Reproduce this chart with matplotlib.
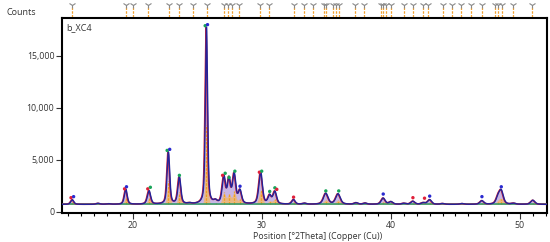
import numpy as np
import matplotlib
matplotlib.use("Agg")
import matplotlib.pyplot as plt

plt.rcParams['font.family'] = ['Open Sans', 'DejaVu Sans']

# ---- data ----
background = 700
peak_pos = [15.30, 17.3, 18.1, 19.45, 21.25, 22.75, 23.60, 24.4, 25.70, 26.40, 27.05, 27.45, 27.85,
            28.30, 29.90, 30.60, 31.00, 32.45, 33.30, 34.95, 35.90, 37.30, 38.00, 39.40,
            40.00, 41.00, 41.70, 42.50, 43.00, 44.00, 45.50, 47.05, 48.30, 48.55, 49.50, 51.00]
peak_cnt = [1150, 800, 760, 2150, 2000, 5700, 3300, 780, 17700, 950, 3300, 3000, 3500,
            1950, 3800, 1500, 1900, 1150, 800, 1750, 1700, 850, 820, 1300,
            950, 800, 1000, 850, 1150, 780, 780, 1050, 1300, 1950, 800, 1100]
peak_fwhm = [0.28, 0.35, 0.35, 0.26, 0.30, 0.24, 0.27, 0.35, 0.20, 0.30, 0.30, 0.27, 0.30,
             0.30, 0.32, 0.30, 0.32, 0.30, 0.35, 0.42, 0.42, 0.35, 0.35, 0.36,
             0.36, 0.36, 0.36, 0.36, 0.36, 0.36, 0.36, 0.36, 0.36, 0.38, 0.36, 0.38]

marker_pos = [15.20, 15.40, 19.35, 19.50, 21.15, 21.35, 22.65, 22.85, 23.60, 25.60, 25.78,
              26.95, 27.15, 27.45, 27.90, 28.30, 29.80, 29.98, 30.60, 31.00, 31.15, 32.45,
              34.95, 35.95, 39.40, 41.70, 42.60, 43.00, 47.05, 48.55]
marker_cnt = [1350, 1450, 2200, 2400, 2200, 2350, 5900, 6000, 3500, 17900, 18000,
              3500, 3700, 3300, 3900, 2450, 3800, 3900, 1950, 2300, 2150, 1400,
              2000, 2000, 1700, 1350, 1300, 1500, 1450, 2400]
marker_col = ['r', 'b', 'r', 'b', 'r', 'g', 'g', 'b', 'g', 'g', 'b',
              'r', 'g', 'g', 'g', 'b', 'r', 'g', 'g', 'g', 'r', 'r',
              'g', 'g', 'b', 'r', 'r', 'b', 'b', 'b']

ref_pos = [15.27, 19.46, 20.0, 21.16, 22.79, 23.57, 24.65, 25.74, 27.05, 27.36, 27.67, 28.22,
           29.84, 30.54, 32.48, 33.26, 33.95, 34.81, 34.96, 35.50, 35.74, 35.97, 37.21, 37.91,
           39.22, 39.38, 39.61, 40.0, 41.0, 41.7, 42.48, 42.87, 44.03, 44.73, 45.43, 46.2,
           47.05, 48.06, 48.3, 48.6, 49.46, 50.93]

x_ticks = [20, 30, 40, 50]
y_ticks = [0, 5000, 10000, 15000]
y_ticklabels = ['0', '5,000', '10,000', '15,000']

# ---- profile ----
x = np.linspace(14.5, 52.2, 6000)

def pv(x, c, h, w, eta=0.5):
    g = np.exp(-4 * np.log(2) * ((x - c) / w) ** 2)
    l = 1.0 / (1 + 4 * ((x - c) / w) ** 2)
    return h * (eta * l + (1 - eta) * g)

calc = np.full_like(x, background, dtype=float)
obs = np.full_like(x, background, dtype=float)
phase = np.full_like(x, background, dtype=float)
for c, h, w in zip(peak_pos, peak_cnt, peak_fwhm):
    calc += pv(x, c, h - background, w)
    obs += pv(x, c - 0.035, h - background, w)
    phase += pv(x, c, (h - background) * 0.4, w * 1.1, eta=0.1)

cmap = {'r': '#e0203a', 'g': '#19a55a', 'b': '#2a2ad0'}

fig = plt.figure(figsize=(5.5, 2.42), dpi=100)
ax = fig.add_axes([0.1127, 0.12, 0.882, 0.806])

ax.fill_between(x, background, calc, color='#c9b6e4', lw=0, zorder=1)
ax.fill_between(x, background, phase, color='#f5b860', lw=0, alpha=0.75, zorder=2)
for c, h in zip(peak_pos, peak_cnt):
    ax.vlines(c, background, background + (h - background) * 0.45, colors='#f0a020',
              linestyles=(0, (2, 1)), lw=0.9, zorder=3)
ax.axhline(background, color='#2a9a6a', lw=1.1, zorder=3)
ax.plot(x, obs, color='#d42030', lw=1.1, zorder=4)
ax.plot(x, calc, color='#23239a', lw=1.0, zorder=5)
ax.scatter(marker_pos, marker_cnt, c=[cmap[k] for k in marker_col], s=6, zorder=6, lw=0)

ax.set_xlim(14.5, 52.1)
ax.set_ylim(-120, 18650)
ax.set_xticks(x_ticks)
ax.set_xticks(np.arange(15, 53, 1), minor=True)
ax.set_yticks(y_ticks)
ax.set_yticklabels(y_ticklabels)
ax.tick_params(axis='both', labelsize=6.3, colors='#333333', length=4, width=0.8, pad=1.5)
ax.tick_params(axis='x', which='minor', length=2.5, width=0.8)
for s in ax.spines.values():
    s.set_linewidth(1.5)
    s.set_color('black')
ax.text(0.008, 0.975, 'b_XC4', transform=ax.transAxes, fontsize=6.5, va='top', ha='left',
        color='#333333')

fig.text(0.578, 0.003, 'Position [°2Theta] (Copper (Cu))', fontsize=6.3, ha='center',
         va='bottom', color='#333333')
fig.text(0.012, 0.95, 'Counts', fontsize=6.5, ha='left', va='center', color='#333333')

# reference pattern markers above the plot
axr = fig.add_axes([0.1127, 0.93, 0.882, 0.065], sharex=ax)
axr.set_ylim(0, 1)
axr.axis('off')
axr.vlines(ref_pos, 0.0, 0.62, colors='#f0a030', linestyles=(0, (2, 1)), lw=0.9)
axr.plot(ref_pos, [0.78] * len(ref_pos), ls='none', marker='1', ms=5, color='#888888', mew=0.8)

fig.savefig('out.png', dpi=100)
